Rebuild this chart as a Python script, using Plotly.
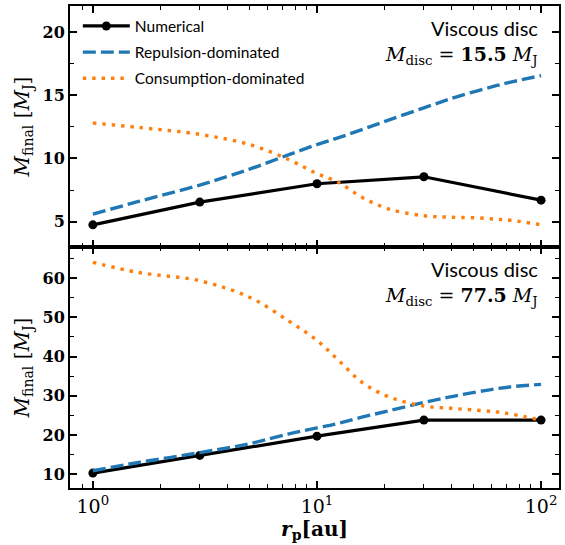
import plotly.graph_objects as go
from plotly.subplots import make_subplots

# Planet orbital radius [au] of the numerical runs
r_num = [1, 3, 10, 30, 100]
num_low = [4.75, 6.55, 8.0, 8.55, 6.7]      # M_disc = 15.5 M_J
num_high = [10.3, 14.8, 19.7, 23.8, 23.8]   # M_disc = 77.5 M_J

# Semi-analytic model curves
r_model = [1, 1.6, 3, 5, 7.5, 10, 12.5, 16, 21, 30, 40, 52, 63, 74, 100]
rep_low = [5.6, 6.6, 7.9, 9.15, 10.3, 11.1, 11.65, 12.3, 13.05, 14.0, 14.75, 15.35, 15.75, 16.05, 16.55]
con_low = [12.8, 12.45, 11.9, 11.1, 9.9, 8.8, 8.1, 6.9, 6.0, 5.47, 5.35, 5.3, 5.2, 5.1, 4.76]
rep_high = [10.9, 13.0, 15.5, 17.8, 20.3, 21.8, 23.0, 24.6, 26.2, 28.3, 29.8, 31.0, 31.8, 32.3, 32.9]
con_high = [64.0, 61.4, 59.3, 55.1, 49.0, 44.1, 39.0, 33.3, 29.7, 27.4, 26.8, 26.3, 25.9, 25.3, 23.8]

x_ticks = [1, 10, 100]
x_ticktext = ["10<sup>0</sup>", "10<sup>1</sup>", "10<sup>2</sup>"]
x_minor = [m * d for d in (1, 10) for m in range(2, 10)] + [0.9]

BLUE = "#1f77b4"
ORANGE = "#ff7f0e"
SERIF = "DejaVu Serif"
SANS = "Lato"

fig = make_subplots(rows=2, cols=1, shared_xaxes=True, vertical_spacing=0)

panels = [(1, num_low, rep_low, con_low, "15.5"), (2, num_high, rep_high, con_high, "77.5")]
for row, num, rep, con, mdisc in panels:
    show = row == 1
    fig.add_trace(go.Scatter(x=r_num, y=num, mode="lines+markers", name="Numerical",
                             legendgroup="num",
                             line=dict(color="black", width=3.2),
                             marker=dict(color="black", size=9),
                             showlegend=show), row=row, col=1)
    fig.add_trace(go.Scatter(x=r_model, y=rep, mode="lines", name="Repulsion-dominated",
                             legendgroup="rep",
                             line=dict(color=BLUE, width=3.4, dash="13px,5px", shape="spline"),
                             showlegend=show), row=row, col=1)
    fig.add_trace(go.Scatter(x=r_model, y=con, mode="lines", name="Consumption-dominated",
                             legendgroup="con",
                             line=dict(color=ORANGE, width=3.4, dash="3.4px,6px", shape="spline"),
                             showlegend=show), row=row, col=1)

axis_common = dict(showline=True, linecolor="black", linewidth=2, mirror="ticks",
                   ticks="inside", ticklen=7, tickwidth=1.6, tickcolor="black",
                   showgrid=False, zeroline=False)

fig.update_xaxes(type="log", range=[-0.102, 2.08], tickvals=x_ticks, ticktext=x_ticktext,
                 minor=dict(tickmode="array", tickvals=x_minor, ticks="inside", ticklen=4,
                            tickwidth=1.4, tickcolor="black", showgrid=False),
                 tickfont=dict(family=SERIF, size=19, color="black"), **axis_common)
fig.update_xaxes(showticklabels=False, row=1, col=1)
fig.update_xaxes(title=dict(text="<b><i>r</i><sub>p</sub>[au]</b>",
                            font=dict(family=SERIF, size=20, color="black"), standoff=6),
                 row=2, col=1)

ytitle = "<i>M</i><sub>final</sub> [<i>M</i><sub>J</sub>]"
fig.update_yaxes(range=[3.0, 22.05], tickvals=[5, 10, 15, 20],
                 minor=dict(dtick=2.5, tick0=0, ticks="inside", ticklen=4, tickwidth=1.4,
                            tickcolor="black", showgrid=False),
                 row=1, col=1, **axis_common)
fig.update_yaxes(range=[6.5, 67.9], tickvals=[10, 20, 30, 40, 50, 60],
                 minor=dict(dtick=5, tick0=0, ticks="inside", ticklen=4, tickwidth=1.4,
                            tickcolor="black", showgrid=False),
                 row=2, col=1, **axis_common)
fig.update_yaxes(tickfont=dict(family=SERIF, size=16, color="black", weight="bold"),
                 title=dict(text=ytitle, font=dict(family=SERIF, size=20, color="black"),
                            standoff=8))

for row, num, rep, con, mdisc in panels:
    yref = "y domain" if row == 1 else "y2 domain"
    fig.add_annotation(text="Viscous disc", xref="x domain", yref=yref, x=0.961, y=0.965,
                       xanchor="right", yanchor="top", showarrow=False,
                       font=dict(family=SANS, size=20, color="black"))
    fig.add_annotation(text=f"<i>M</i><sub>disc</sub> = <b>{mdisc}</b> <i>M</i><sub>J</sub>",
                       xref="x domain", yref=yref, x=0.961, y=0.855,
                       xanchor="right", yanchor="top", showarrow=False,
                       font=dict(family=SERIF, size=19, color="black"))

fig.update_layout(width=565, height=545, margin=dict(l=70, r=4, t=4, b=57),
                  paper_bgcolor="white", plot_bgcolor="white",
                  legend=dict(x=0.016, y=0.993, xanchor="left", yanchor="top",
                              bgcolor="rgba(0,0,0,0)", itemwidth=47,
                              traceorder="grouped", tracegroupgap=3,
                              font=dict(family=SANS, size=15.5, color="black")))

fig.write_html("out.html")
